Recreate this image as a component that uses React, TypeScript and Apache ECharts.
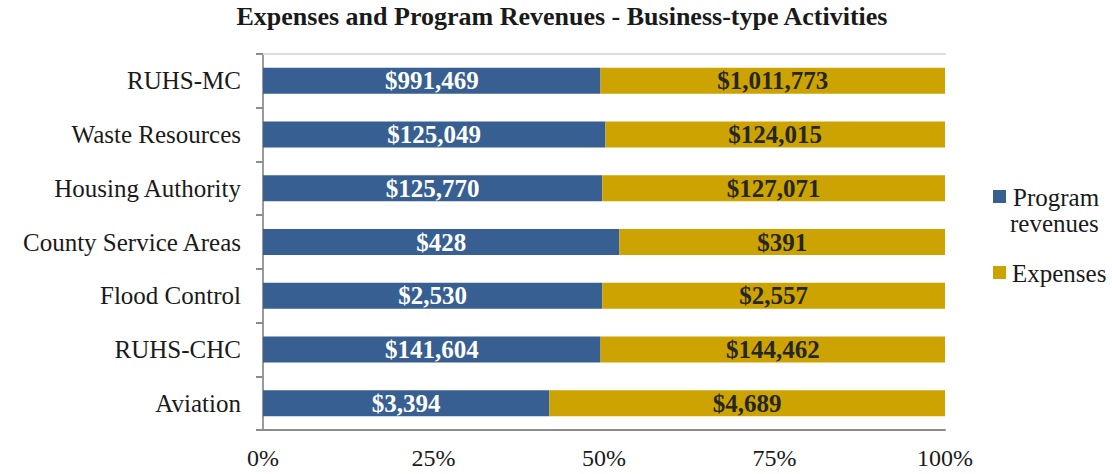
import React, { useEffect, useRef } from "react";
import * as echarts from "echarts";

const categories = [
  "RUHS-MC",
  "Waste Resources",
  "Housing Authority",
  "County Service Areas",
  "Flood Control",
  "RUHS-CHC",
  "Aviation",
];
const programRevenues = [991469, 125049, 125770, 428, 2530, 141604, 3394];
const expenses = [1011773, 124015, 127071, 391, 2557, 144462, 4689];
const xTicks = [0, 25, 50, 75, 100];
const seriesNames = ["Program revenues", "Expenses"];

const FONT = "'Times New Roman', 'Liberation Serif', serif";
const BLUE = "#375F91";
const GOLD = "#CCA300";

const money = (v: number) => "$" + v.toLocaleString("en-US");

export default function App() {
  const ref = useRef<HTMLDivElement>(null);
  useEffect(() => {
    document.body.style.margin = "0";
    if (!ref.current) return;
    const chart = echarts.init(ref.current, null, { renderer: "svg" });
    const totals = programRevenues.map((v, i) => v + expenses[i]);
    const revData = programRevenues.map((v, i) => ({ value: (v / totals[i]) * 100, raw: v }));
    const expData = expenses.map((v, i) => ({ value: (v / totals[i]) * 100, raw: v }));
    const legendFont = {
      font: "25px 'Liberation Serif', 'Times New Roman', serif",
      fontFamily: "'Liberation Serif', 'Times New Roman', serif",
      fontSize: 25,
      fill: "#1a1a1a",
      verticalAlign: "middle",
    };
    chart.setOption({
      animation: false,
      backgroundColor: "#fff",
      title: {
        text: "Expenses and Program Revenues - Business-type Activities",
        left: 562,
        textAlign: "center",
        top: 3,
        padding: 0,
        textStyle: { fontFamily: FONT, fontSize: 26, fontWeight: "bold", color: "#1a1a1a" },
      },
      legend: { show: false, data: seriesNames },
      graphic: [
        { type: "rect", shape: { x: 993, y: 190, width: 13, height: 13 }, style: { fill: BLUE } },
        { type: "text", x: 1013, y: 197, style: { ...legendFont, text: "Program" } },
        { type: "text", x: 1010, y: 223, style: { ...legendFont, text: "revenues" } },
        { type: "rect", shape: { x: 993, y: 266, width: 13, height: 13 }, style: { fill: GOLD } },
        { type: "text", x: 1012, y: 273, style: { ...legendFont, text: "Expenses" } },
      ],
      grid: { left: 263, right: 167, top: 54, bottom: 44 },
      xAxis: [
        {
          type: "value",
          min: 0,
          max: 100,
          interval: 25,
          axisLine: { show: true, lineStyle: { color: "#8c8c8c", width: 2 } },
          axisTick: { show: false },
          splitLine: { show: false },
          axisLabel: {
            margin: 16,
            formatter: (v: number) => (xTicks.includes(v) ? v + "%" : ""),
            fontFamily: FONT,
            fontSize: 24,
            color: "#1a1a1a",
          },
        },
        {
          type: "value",
          position: "top",
          min: 0,
          max: 100,
          axisLine: { show: true, lineStyle: { color: "#dedede", width: 2 } },
          axisTick: { show: false },
          axisLabel: { show: false },
          splitLine: { show: false },
        },
      ],
      yAxis: [
        {
          type: "category",
          inverse: true,
          data: categories,
          axisLine: { show: true, lineStyle: { color: "#8c8c8c", width: 2 } },
          axisTick: { show: true, length: 7, lineStyle: { color: "#8c8c8c", width: 2 } },
          axisLabel: {
            margin: 22,
            fontFamily: FONT,
            fontSize: 25,
            color: "#1a1a1a",
          },
        },
        {
          type: "category",
          inverse: true,
          position: "right",
          data: categories,
          axisLine: { show: true, lineStyle: { color: "#9a9a9a", width: 2 } },
          axisTick: { show: false },
          axisLabel: { show: false },
        },
      ],
      series: [
        {
          name: seriesNames[0],
          type: "bar",
          stack: "total",
          barWidth: 26,
          itemStyle: { color: BLUE },
          data: revData,
          label: {
            show: true,
            position: "inside",
            formatter: (p: any) => money(p.data.raw),
            fontFamily: FONT,
            fontSize: 25,
            fontWeight: "bold",
            color: "#ffffff",
          },
        },
        {
          name: seriesNames[1],
          type: "bar",
          stack: "total",
          barWidth: 26,
          itemStyle: { color: GOLD },
          data: expData,
          label: {
            show: true,
            position: "inside",
            formatter: (p: any) => money(p.data.raw),
            fontFamily: FONT,
            fontSize: 25,
            fontWeight: "bold",
            color: "#262626",
          },
        },
      ],
    });
    return () => chart.dispose();
  }, []);
  return <div ref={ref} style={{ width: 1112, height: 474 }} />;
}
